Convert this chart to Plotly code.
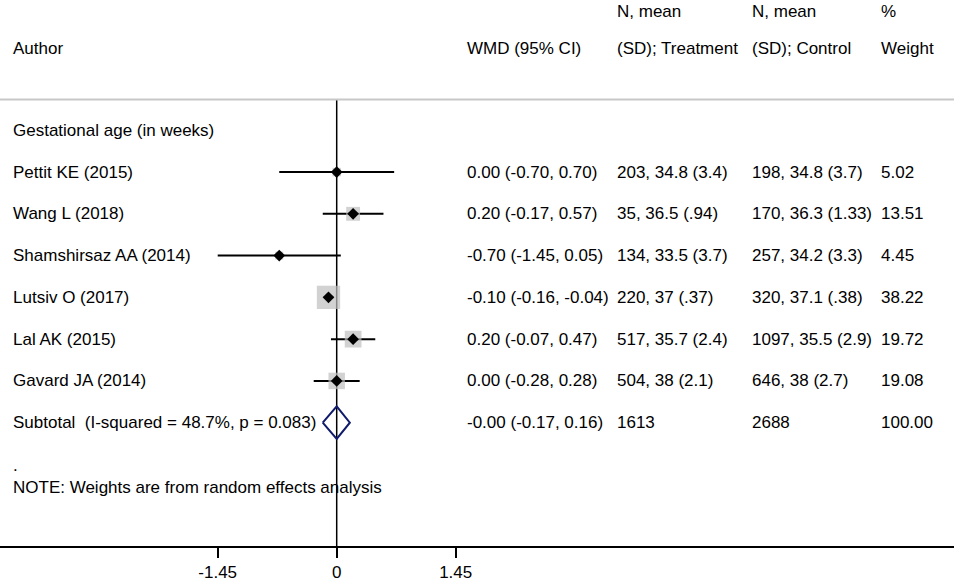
import math
import plotly.graph_objects as go

# study data
authors = ["Pettit KE (2015)", "Wang L (2018)", "Shamshirsaz AA (2014)",
           "Lutsiv O (2017)", "Lal AK (2015)", "Gavard JA (2014)"]
wmd = [0.00, 0.20, -0.70, -0.10, 0.20, 0.00]
ci_lo = [-0.70, -0.17, -1.45, -0.16, -0.07, -0.28]
ci_hi = [0.70, 0.57, 0.05, -0.04, 0.47, 0.28]
treatment = ["203, 34.8 (3.4)", "35, 36.5 (.94)", "134, 33.5 (3.7)",
             "220, 37 (.37)", "517, 35.7 (2.4)", "504, 38 (2.1)"]
control = ["198, 34.8 (3.7)", "170, 36.3 (1.33)", "257, 34.2 (3.3)",
           "320, 37.1 (.38)", "1097, 35.5 (2.9)", "646, 38 (2.7)"]
weights = [5.02, 13.51, 4.45, 38.22, 19.72, 19.08]

# pooled estimate
sub_label = "Subtotal  (I-squared = 48.7%, p = 0.083)"
sub_est, sub_lo, sub_hi = -0.00, -0.17, 0.16
sub_treat, sub_ctrl, sub_weight = "1613", "2688", "100.00"

tick_vals = [-1.45, 0, 1.45]
tick_text = ["-1.45", "0", "1.45"]

FONT = "Arial, Liberation Sans, sans-serif"
FS = 17
W, H = 957, 582
PLOT_W = 954
rows = list(range(1, len(authors) + 1))
sub_row = len(authors) + 1

fig = go.Figure()

# confidence intervals
for r, lo, hi in zip(rows, ci_lo, ci_hi):
    fig.add_trace(go.Scatter(x=[lo, hi], y=[r, r], mode="lines",
                             line=dict(color="black", width=2),
                             hoverinfo="skip", showlegend=False))

# weight boxes
fig.add_trace(go.Scatter(
    x=wmd, y=rows, mode="markers",
    marker=dict(symbol="square", color="#bfbfbf",
                size=[23.3 * math.sqrt(w / max(weights)) for w in weights],
                line=dict(width=0)),
    showlegend=False))

# point estimates
fig.add_trace(go.Scatter(
    x=wmd, y=rows, mode="markers",
    marker=dict(symbol="diamond", color="black", size=9, line=dict(width=0)),
    showlegend=False))

# pooled diamond
h = 0.39
fig.add_trace(go.Scatter(
    x=[sub_lo, sub_est, sub_hi, sub_est, sub_lo],
    y=[sub_row, sub_row - h, sub_row, sub_row + h, sub_row],
    mode="lines", line=dict(color="#101a6b", width=2),
    showlegend=False))

# null line and header separator
fig.add_shape(type="line", x0=0, x1=0, y0=-0.738, y1=9.952,
              xref="x", yref="y", line=dict(color="black", width=1.5),
              layer="below")
fig.add_shape(type="line", x0=0, x1=1, y0=-0.738, y1=-0.738,
              xref="paper", yref="y", line=dict(color="#c8c8c8", width=2))


def txt(px, y, s, anchor="middle"):
    fig.add_annotation(x=px / PLOT_W, y=y, xref="paper", yref="y", text=s,
                       showarrow=False, xanchor="left", yanchor=anchor,
                       xshift=-1,
                       font=dict(family=FONT, size=FS, color="black"))


col_author, col_wmd, col_treat, col_ctrl, col_w = 12, 466, 616, 751, 880

# headers
top, second = -3.119, -1.95
txt(col_author, second, "Author")
txt(col_wmd, second, "WMD (95% CI)")
txt(col_treat, top, "N, mean", "top")
txt(col_treat, second, "(SD); Treatment")
txt(col_ctrl, top, "N, mean", "top")
txt(col_ctrl, second, "(SD); Control")
txt(col_w, top, "%", "top")
txt(col_w, second, "Weight")

txt(col_author, 0, "Gestational age (in weeks)")

for r, a, e, lo, hi, t, c, w in zip(rows, authors, wmd, ci_lo, ci_hi,
                                     treatment, control, weights):
    txt(col_author, r, a)
    txt(col_wmd, r, f"{e:.2f} ({lo:.2f}, {hi:.2f})")
    txt(col_treat, r, t)
    txt(col_ctrl, r, c)
    txt(col_w, r, f"{w:.2f}")

txt(col_author, sub_row, sub_label)
txt(col_wmd, sub_row, f"-{abs(sub_est):.2f} ({sub_lo:.2f}, {sub_hi:.2f})")
txt(col_treat, sub_row, sub_treat)
txt(col_ctrl, sub_row, sub_ctrl)
txt(col_w, sub_row, sub_weight)

txt(col_author, 8.02, ".")
txt(col_author, 8.55, "NOTE: Weights are from random effects analysis")

px_per_unit = 119 / 1.45
x0_px = 336.7
fig.update_layout(
    width=W, height=H,
    margin=dict(l=0, r=W - PLOT_W, t=0, b=33),
    paper_bgcolor="white", plot_bgcolor="white",
    font=dict(family=FONT, size=FS, color="black"),
    xaxis=dict(range=[-x0_px / px_per_unit, (PLOT_W - x0_px) / px_per_unit],
               tickvals=tick_vals, ticktext=tick_text,
               ticks="outside", ticklen=10, tickwidth=1.5, tickcolor="black",
               showline=True, linecolor="black", linewidth=1.5,
               showgrid=False, zeroline=False,
               tickfont=dict(family=FONT, size=FS, color="black")),
    yaxis=dict(range=[9.952, -3.119], visible=False, showgrid=False,
               zeroline=False),
)

fig.write_html("out.html", config={"displayModeBar": False},
               post_script="document.body.style.margin='0';")
